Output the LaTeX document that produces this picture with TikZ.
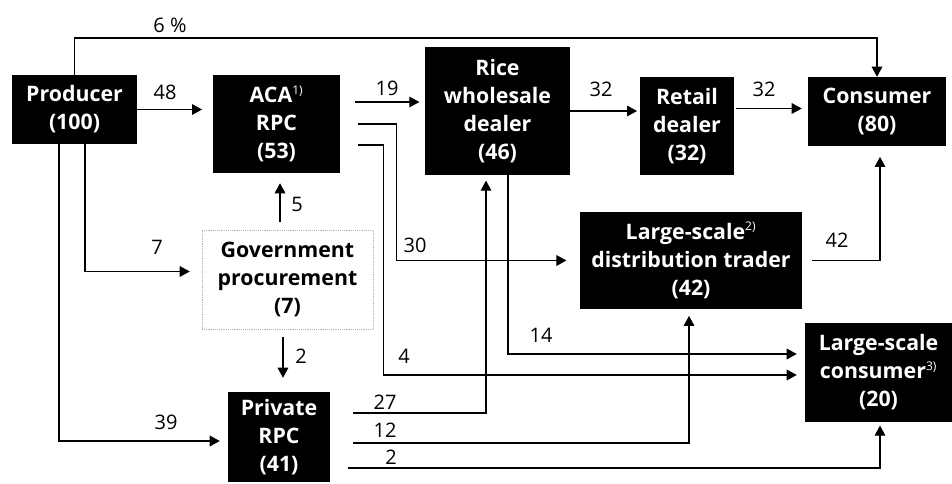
\documentclass[tikz,border=0pt]{standalone}
\usepackage{fontspec}
\setmainfont{Open Sans}
\usetikzlibrary{arrows.meta, calc, positioning}

\tikzset{
  stage/.style={fill=black, text=white, align=center, inner sep=0pt,
    font=\fontsize{16}{21}\selectfont\bfseries},
  govbox/.style={draw=gray!60, densely dotted, fill=white, align=center, inner sep=0pt,
    font=\fontsize{16}{21}\selectfont\bfseries},
  flow/.style={-{Triangle[length=7.5pt,width=8pt]}, line width=0.8pt},
  qty/.style={font=\fontsize{15}{15}\selectfont, inner sep=0pt},
}
\newcommand{\fn}[1]{\textsuperscript{\fontsize{9}{9}\selectfont\mdseries #1}}

\begin{document}
\begin{tikzpicture}[x=0.75pt, y=-0.75pt]
    \useasboundingbox (0,0) rectangle (952,484);

    % stages of the rice chain
    \node[stage, minimum width=93.75pt, minimum height=51.75pt] (prod) at (74.5,109.5) {Producer\\(100)};
    \node[stage, minimum width=95.25pt, minimum height=73.5pt] (aca) at (276.5,124) {ACA\fn{1)}\\RPC\\(53)};
    \node[stage, minimum width=108.75pt, minimum height=96pt] (whole) at (497.5,111) {Rice\\wholesale\\dealer\\(46)};
    \node[stage, minimum width=70.5pt, minimum height=73.5pt] (retail) at (687,126) {Retail\\dealer\\(32)};
    \node[stage, minimum width=103.5pt, minimum height=51.75pt] (cons) at (877,111.5) {Consumer\\(80)};
    \node[stage, minimum width=166.5pt, minimum height=72.75pt] (dist) at (691,260.5) {Large-scale\fn{2)}\\distribution trader\\(42)};
    \node[stage, minimum width=110.25pt, minimum height=74.25pt] (lscons) at (878.5,372.5) {Large-scale\\consumer\fn{3)}\\(20)};
    \node[govbox, minimum width=128.25pt, minimum height=74.25pt] (gov) at (287.5,279.5) {Government\\procurement\\(7)};
    \node[stage, minimum width=76.5pt, minimum height=67.5pt] (priv) at (279,437) {Private\\RPC\\(41)};

    % flows
    \coordinate (top) at (74.5,38);
    \draw[flow] (prod.north) -- (top) -| (cons.north);
    \draw[flow, shorten >=8pt] (prod.east) -- (prod.east -| aca.west);
    \draw[flow, shorten >=4pt] ($(aca.east)+(15,-22)$) -- ($(whole.west)+(0,-9)$);
    \draw[flow, shorten >=2pt] (whole.east) -- (whole.east -| retail.west);
    \draw[flow, shorten >=4.5pt] ($(cons.west -| retail.east)+(2,-3)$) -- ($(cons.west)+(0,-3)$);
    \draw[flow, shorten >=10pt] ($(aca.east)+(18,0)$) -- ++(38,0) |- (dist.west);
    \draw[flow, shorten >=6pt] ($(aca.east)+(18,21)$) -- ++(25,0) |- ($(lscons.west)+(0,2.5)$);
    \draw[flow, shorten >=6pt] ($(whole.south)+(10.5,0)$) |- ($(lscons.west)+(0,-18.5)$);
    \draw[flow, shorten >=4pt] ($(priv.east)+(23,-24)$) -| ($(whole.south)+(-11.5,0)$);
    \draw[flow, shorten >=5pt] ($(priv.east)+(23,6)$) -| ($(dist.south)+(-2,0)$);
    \draw[flow, shorten >=2.5pt] ($(priv.east)+(18,31)$) -| ($(lscons.south)+(1.5,0)$);
    \draw[flow, shorten >=8pt] ($(dist.east)+(10,0)$) -| ($(cons.south)+(3,0)$);
    \draw[flow] ($(gov.north)+(-7.5,-8)$) -- ($(aca.south)+(3.5,10)$);
    \draw[flow, shorten >=9pt] ($(prod.south)+(10.5,0)$) |- ($(gov.west)+(0,-8)$);
    \draw[flow] ($(gov.south)+(-4.5,8)$) -- ($(priv.north)+(4,-14)$);
    \draw[flow, shorten >=6pt] ($(prod.south)+(-15.5,0)$) |- ($(priv.west)+(0,4)$);

    % quantities
    \node[qty] (q6)   at (170,25)  {6 \%};
    \node[qty] (q48)  at (165,92)  {48};
    \node[qty] (q19)  at (387,88)  {19};
    \node[qty] (q32a) at (601,89)  {32};
    \node[qty] (q32b) at (764,89)  {32};
    \node[qty] (q30)  at (415,245) {30};
    \node[qty] (q4)   at (404,356) {4};
    \node[qty] (q14)  at (541,335) {14};
    \node[qty] (q27)  at (385,402) {27};
    \node[qty] (q12)  at (385,430) {12};
    \node[qty] (q2b)  at (391,457) {2};
    \node[qty] (q42)  at (837,240) {42};
    \node[qty] (q5)   at (297,204) {5};
    \node[qty] (q7)   at (157,247) {7};
    \node[qty] (q2a)  at (301,356) {2};
    \node[qty] (q39)  at (166,422) {39};

\end{tikzpicture}
\end{document}
